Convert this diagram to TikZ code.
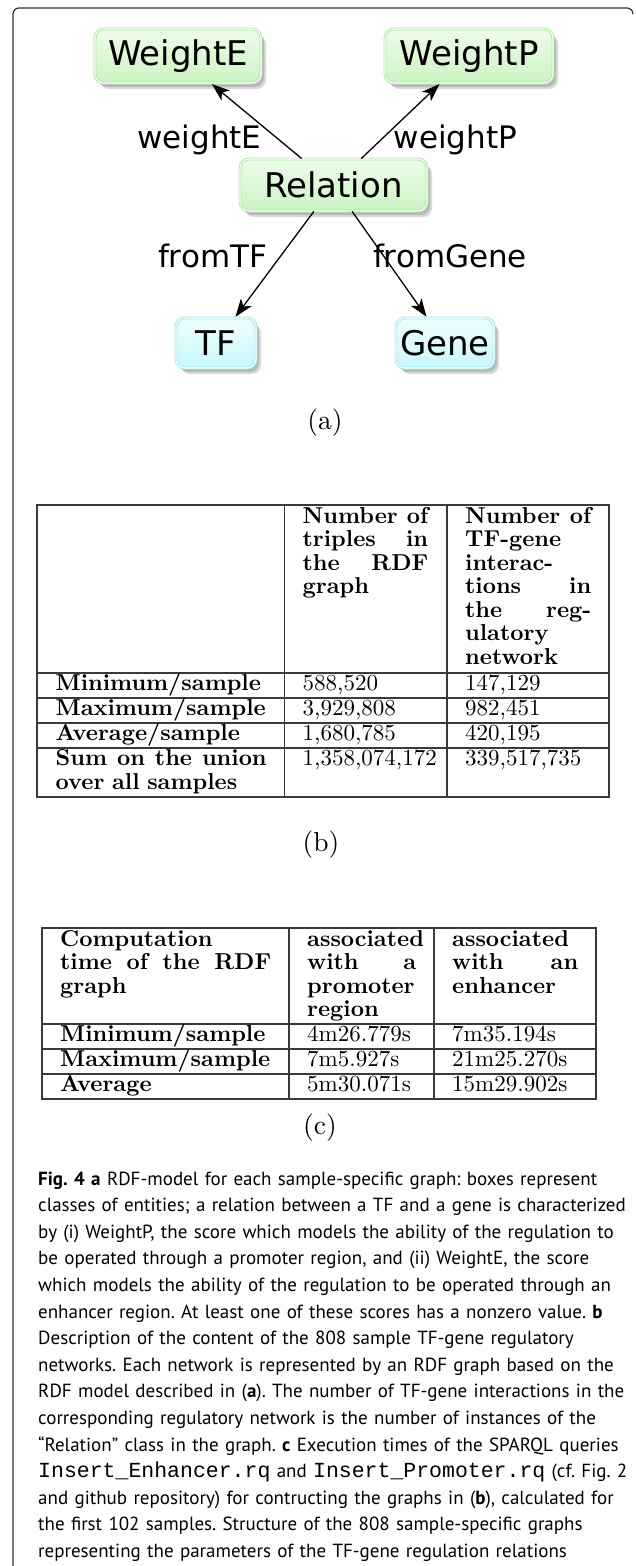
\documentclass[tikz,border=0pt]{standalone}
\usepackage{fontspec}
\setmainfont{lmroman10}[Extension=.otf, UprightFont=*-regular, BoldFont=*-bold, ItalicFont=*-italic, BoldItalicFont=*-bolditalic]
\newfontfamily\diagfont{DejaVu Sans}
\newfontfamily\capfont{PT Sans}
\newfontfamily\capmono{Liberation Mono}
\usetikzlibrary{arrows.meta,shadows}

\definecolor{gtop}{HTML}{EEFCEA}
\definecolor{gbot}{HTML}{CBF4C3}
\definecolor{gborder}{HTML}{A8E89E}
\definecolor{ctop}{HTML}{EEFEFF}
\definecolor{cbot}{HTML}{C9F7FA}
\definecolor{cborder}{HTML}{A0EAF1}
\definecolor{framecol}{HTML}{333333}
\definecolor{rulecol}{HTML}{3A3A3A}

\tikzset{
  classbox/.style={rounded corners=9pt, line width=0.9pt, double=white, double distance=1.1pt,
    inner sep=0pt, font=\diagfont\fontsize{34}{34}\selectfont, text=black,
    drop shadow={shadow xshift=3pt, shadow yshift=-4pt, opacity=0.15, fill=black},
    drop shadow={shadow xshift=5pt, shadow yshift=-6pt, opacity=0.15, fill=black}},
  gbox/.style={classbox, draw=gborder, top color=gtop, bottom color=gbot},
  cbox/.style={classbox, draw=cborder, top color=ctop, bottom color=cbot},
  rel/.style={-{Stealth[length=18pt,width=13pt,inset=5pt]}, line width=1.3pt, shorten >=1pt},
  proplabel/.style={font=\diagfont\fontsize{31}{31}\selectfont, inner sep=0pt, anchor=base},
  sublabel/.style={font=\fontsize{27.5}{27.5}\selectfont, inner sep=0pt},
  frame/.style={draw=framecol, line width=1.2pt, rounded corners=6pt},
  rule/.style={draw=rulecol, line width=1.3pt},
  cell/.style={inner sep=0pt, anchor=base west, align=left, font=\fontsize{23}{23.5}\selectfont},
  hcell/.style={cell, font=\fontsize{23}{23.5}\selectfont\bfseries},
  caption/.style={inner sep=0pt, anchor=base west, align=left, text width=620pt,
    font=\capfont\fontsize{19}{26.6}\selectfont\frenchspacing}
}
\newcommand{\codefrag}[1]{{\capmono\fontsize{21.5}{26.6}\selectfont #1}}

\begin{document}
\begin{tikzpicture}[x=1pt, y=-1pt]
\useasboundingbox (0,0) rectangle (635,1566);

% outer frame: left and top edges only
\draw[frame] (13,1566) -- (13,8) -- (633,8) -- (633,13);

% ---------- (a) RDF model ----------
\node[gbox, minimum width=166pt, minimum height=54pt] (we)   at (178,56)    {WeightE};
\node[gbox, minimum width=168pt, minimum height=54pt] (wp)   at (469,56)    {WeightP};
\node[gbox, minimum width=187pt, minimum height=52pt] (relation) at (333.5,185) {Relation};
\node[cbox, minimum width=80pt,  minimum height=50pt] (tf)   at (216,343)   {TF};
\node[cbox, minimum width=98pt,  minimum height=50pt] (gene) at (445,343)   {Gene};

\draw[rel] (relation) -- (we);
\draw[rel] (relation) -- (wp);
\draw[rel] (relation) -- (tf);
\draw[rel] (relation) -- (gene);

\node[proplabel] (lwe)   at (199.5,148) {weightE};
\node[proplabel] (lwp)   at (455.5,148) {weightP};
\node[proplabel] (ltf)   at (212.5,267) {fromTF};
\node[proplabel] (lgene) at (450,267)   {fromGene};

\node[sublabel] (suba) at (325,423) {(a)};

% ---------- (b) content of the networks ----------
\draw[rule] (37,505) rectangle (609,797);
\draw[rule] (284.5,505) -- (284.5,797);
\draw[rule] (447,505) -- (447,797);
\foreach \yy in {673,698,723,748} \draw[rule] (37,\yy) -- (609,\yy);

\node[hcell, text width=125.5pt] (bh2) at (302.5,523)
  {Number\hfill of\\triples\hfill in\\the\hfill RDF\\graph};
\node[hcell, text width=126pt] (bh3) at (465,523)
  {Number\hfill of\\TF-gene\\interac-\\tions\hfill in\\the\hfill reg-\\ulatory\\network};

\node[hcell] (br1) at (55.5,690.5) {Minimum/sample};
\node[hcell] (br2) at (55.5,715.5) {Maximum/sample};
\node[hcell] (br3) at (55.5,740.5) {Average/sample};
\node[hcell, text width=211pt] (br4) at (55.5,765.5) {Sum\hfill on\hfill the\hfill union\\over all samples};

\node[cell] (b12) at (302.5,690.5) {588,520};
\node[cell] (b13) at (465,690.5)   {147,129};
\node[cell] (b22) at (302.5,715.5) {3,929,808};
\node[cell] (b23) at (465,715.5)   {982,451};
\node[cell] (b32) at (302.5,740.5) {1,680,785};
\node[cell] (b33) at (465,740.5)   {420,195};
\node[cell] (b42) at (302.5,765.5) {1,358,074,172};
\node[cell] (b43) at (465,765.5)   {339,517,735};

\node[sublabel] (subb) at (321,845) {(b)};

% ---------- (c) computation times ----------
\draw[rule] (42,928) rectangle (596,1099);
\draw[rule] (289,928) -- (289,1099);
\draw[rule] (434,928) -- (434,1099);
\foreach \yy in {1024,1049,1074} \draw[rule] (42,\yy) -- (596,\yy);

\node[hcell, text width=211pt] (ch1) at (60,946) {Computation\\time\hfill of\hfill the\hfill RDF\\graph};
\node[hcell, text width=109pt] (ch2) at (307,946) {associated\\with\hfill a\\promoter\\region};
\node[hcell, text width=126pt] (ch3) at (452,946) {associated\\with\hfill an\\enhancer};

\node[hcell] (cr1) at (60,1041.5) {Minimum/sample};
\node[hcell] (cr2) at (60,1066.5) {Maximum/sample};
\node[hcell] (cr3) at (60,1091.5) {Average};

\node[cell] (c12) at (307,1041.5) {4m26.779s};
\node[cell] (c13) at (452,1041.5) {7m35.194s};
\node[cell] (c22) at (307,1066.5) {7m5.927s};
\node[cell] (c23) at (452,1066.5) {21m25.270s};
\node[cell] (c32) at (307,1091.5) {5m30.071s};
\node[cell] (c33) at (452,1091.5) {15m29.902s};

\node[sublabel] (subc) at (320,1128) {(c)};

% ---------- caption ----------
\node[caption] (figcap) at (38,1185) {%
{\bfseries Fig. 4 a} RDF-model for each sample-specific graph: boxes represent\\
classes of entities; a relation between a TF and a gene is characterized\\
by (i) WeightP, the score which models the ability of the regulation to\\
be operated through a promoter region, and (ii) WeightE, the score\\
which models the ability of the regulation to be operated through an\\
enhancer region. At least one of these scores has a nonzero value. {\bfseries b}\\
Description of the content of the 808 sample TF-gene regulatory\\
networks. Each network is represented by an RDF graph based on the\\
RDF model described in ({\bfseries a}). The number of TF-gene interactions in the\\
corresponding regulatory network is the number of instances of the\\
“Relation” class in the graph. {\bfseries c} Execution times of the SPARQL queries\\
\codefrag{Insert\_Enhancer.rq} and \codefrag{Insert\_Promoter.rq} (cf. Fig. 2\\
and github repository) for contructing the graphs in ({\bfseries b}), calculated for\\
the first 102 samples. Structure of the 808 sample-specific graphs\\
representing the parameters of the TF-gene regulation relations};
\end{tikzpicture}
\end{document}
